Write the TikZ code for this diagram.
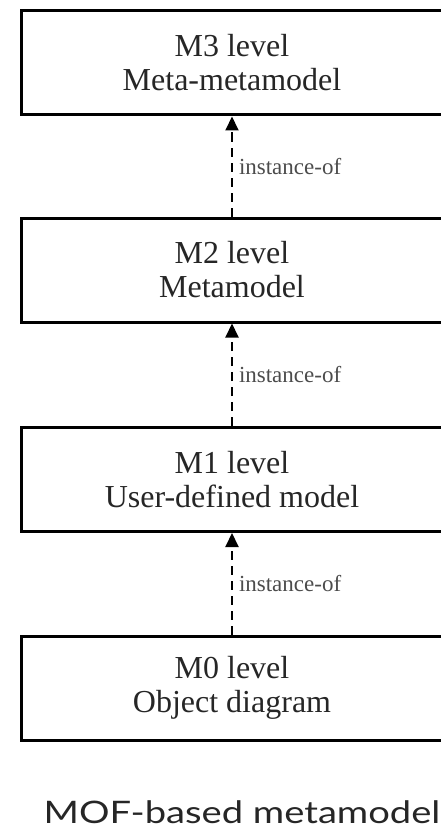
\documentclass[tikz,border=0pt]{standalone}
\usepackage{fontspec}
\setmainfont{Liberation Serif}
\newfontfamily\capfont{Lato}
\usetikzlibrary{arrows.meta}

\begin{document}
\begin{tikzpicture}[x=1pt,y=-1pt,
  level/.style={draw, line width=3pt, minimum width=422pt, minimum height=104pt,
    inner sep=0pt, align=center, text=black!85, font=\fontsize{32}{34}\selectfont},
  inst/.style={draw, line width=2pt, dash pattern=on 9pt off 6pt,
    -{Triangle[width=13pt,length=14pt]}},
  lbl/.style={right=6pt, inner sep=0pt, text=black!70, font=\fontsize{23}{24}\selectfont}]
	\clip (0,0) rectangle (441,832);
	\node[level] (M3) at (232,63) {M3 level\\Meta-metamodel};
	\node[level] (M2) at (232,270) {M2 level\\Metamodel};
	\node[level] (M1) at (232,479.5) {M1 level\\User-defined model};
	\node[level] (M0) at (232,688) {M0 level\\Object diagram};
	\node[transform shape, xscale=1.23, text=black!85, font=\capfont\fontsize{31}{32}\selectfont] (cap) at (242,812) {MOF-based metamodel};
	\draw[inst] (M2) -- (M3) node[lbl, midway] {instance-of};
	\draw[inst] (M1) -- (M2) node[lbl, midway] {instance-of};
	\draw[inst] (M0) -- (M1) node[lbl, midway] {instance-of};
\end{tikzpicture}
\end{document}
